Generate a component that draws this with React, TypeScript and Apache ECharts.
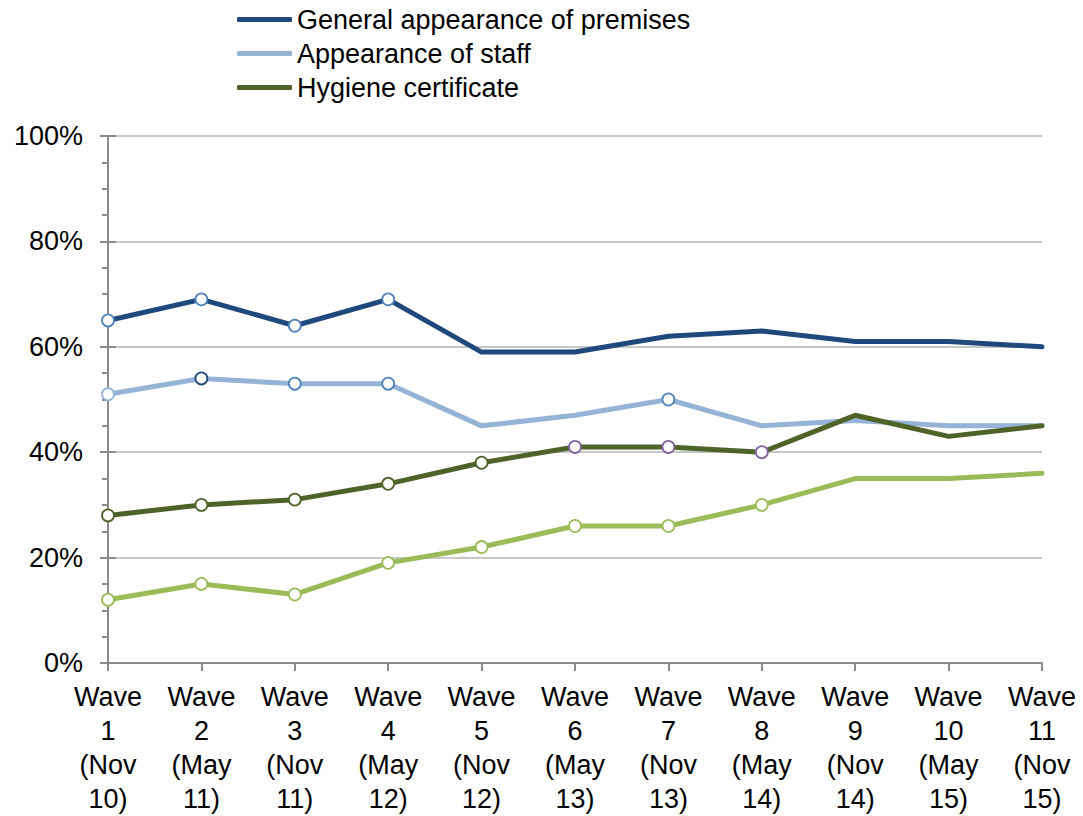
import React, { useEffect, useRef } from "react";
import * as echarts from "echarts";

const categories = [
  "Wave\n1\n(Nov\n10)",
  "Wave\n2\n(May\n11)",
  "Wave\n3\n(Nov\n11)",
  "Wave\n4\n(May\n12)",
  "Wave\n5\n(Nov\n12)",
  "Wave\n6\n(May\n13)",
  "Wave\n7\n(Nov\n13)",
  "Wave\n8\n(May\n14)",
  "Wave\n9\n(Nov\n14)",
  "Wave\n10\n(May\n15)",
  "Wave\n11\n(Nov\n15)",
];

const premises = [65, 69, 64, 69, 59, 59, 62, 63, 61, 61, 60];
const staff = [51, 54, 53, 53, 45, 47, 50, 45, 46, 45, 45];
const hygiene = [28, 30, 31, 34, 38, 41, 41, 40, 47, 43, 45];
const fourth = [12, 15, 13, 19, 22, 26, 26, 30, 35, 35, 36];

// marker flags: which waves carry a highlighted point (key = marker kind)
const premisesMarks = ["a", "a", "a", "a", "", "", "", "", "", "", ""];
const staffMarks = ["b", "c", "a", "a", "", "", "a", "", "", "", ""];
const hygieneMarks = ["d", "d", "d", "d", "d", "p", "p", "p", "", "", ""];
const fourthMarks = ["g", "g", "g", "g", "g", "g", "g", "g", "", "", ""];

const seriesNames = ["General appearance of premises", "Appearance of staff", "Hygiene certificate"];
const yTicks = [0, 20, 40, 60, 80, 100];

const DARK_BLUE = "#1F497D";
const LIGHT_BLUE = "#95B3D7";
const DARK_GREEN = "#4F6228";
const LIGHT_GREEN = "#9BBB59";
const markerColors: Record<string, string> = {
  a: "#4F81BD",
  b: "#95B3D7",
  c: "#1F497D",
  d: "#4F6228",
  p: "#8064A2",
  g: "#9BBB59",
};

const FONT = "'Liberation Sans', Arial, sans-serif";
const FS = 27;

function buildData(values: number[], marks: string[]) {
  return values.map((v, i) =>
    marks[i]
      ? {
          value: v,
          symbol: "circle",
          symbolSize: 12,
          itemStyle: { color: "#FFFFFF", borderColor: markerColors[marks[i]], borderWidth: 1.8 },
        }
      : { value: v, symbol: "none" }
  );
}

function makeSeries(name: string, values: number[], marks: string[], color: string) {
  return {
    name,
    type: "line",
    data: buildData(values, marks),
    color,
    lineStyle: { color, width: 5, cap: "round", join: "round" },
    itemStyle: { color },
    showSymbol: true,
  };
}

export default function App() {
  const ref = useRef<HTMLDivElement>(null);
  useEffect(() => {
    if (!ref.current) return;
    const chart = echarts.init(ref.current, null, { renderer: "svg" });
    chart.setOption({
      animation: false,
      backgroundColor: "#FFFFFF",
      textStyle: { fontFamily: FONT },
      legend: {
        data: seriesNames.map((n, i) => ({
          name: n,
          icon: "roundRect",
          itemStyle: { color: [DARK_BLUE, LIGHT_BLUE, DARK_GREEN][i] },
        })),
        orient: "vertical",
        left: 237,
        top: 6,
        padding: 0,
        itemWidth: 55,
        itemHeight: 5,
        itemGap: 7,
        textStyle: { fontFamily: FONT, fontSize: FS, color: "#000000" },
      },
      grid: { left: 108, right: 41, top: 136, bottom: 152, containLabel: false },
      xAxis: {
        type: "category",
        data: categories,
        boundaryGap: false,
        axisLine: { lineStyle: { color: "#8C8C8C", width: 2 } },
        axisTick: { show: true, length: 8, lineStyle: { color: "#8C8C8C", width: 2 } },
        axisLabel: {
          interval: 0,
          fontFamily: FONT,
          fontSize: FS,
          color: "#000000",
          lineHeight: 34,
          margin: 17,
        },
        splitLine: { show: false },
      },
      yAxis: [
        {
          type: "value",
          min: yTicks[0],
          max: yTicks[yTicks.length - 1],
          interval: 20,
          axisLine: { show: true, lineStyle: { color: "#8C8C8C", width: 2 } },
          axisTick: { show: true, length: 8, lineStyle: { color: "#8C8C8C", width: 2 } },
          minorTick: { show: true, splitNumber: 4, length: 6, lineStyle: { color: "#8C8C8C", width: 2 } },
          axisLabel: {
            fontFamily: FONT,
            fontSize: FS,
            color: "#000000",
            margin: 25,
            formatter: "{value}%",
          },
          splitLine: { show: true, lineStyle: { color: "#C8C8C8", width: 2 } },
        },
        {
          type: "value",
          position: "left",
          min: yTicks[0],
          max: yTicks[yTicks.length - 1],
          interval: 20,
          axisLine: { show: false },
          axisTick: { show: true, inside: true, length: 8, lineStyle: { color: "#8C8C8C", width: 2 } },
          axisLabel: { show: false },
          splitLine: { show: false },
        },
      ],
      series: [
        makeSeries(seriesNames[0], premises, premisesMarks, DARK_BLUE),
        makeSeries(seriesNames[1], staff, staffMarks, LIGHT_BLUE),
        makeSeries("Hygiene rating", fourth, fourthMarks, LIGHT_GREEN),
        makeSeries(seriesNames[2], hygiene, hygieneMarks, DARK_GREEN),
      ],
    });
    return () => chart.dispose();
  }, []);
  return (
    <div
      ref={ref}
      style={{ position: "absolute", left: 0, top: 0, width: 1083, height: 816, background: "#FFFFFF" }}
    />
  );
}
